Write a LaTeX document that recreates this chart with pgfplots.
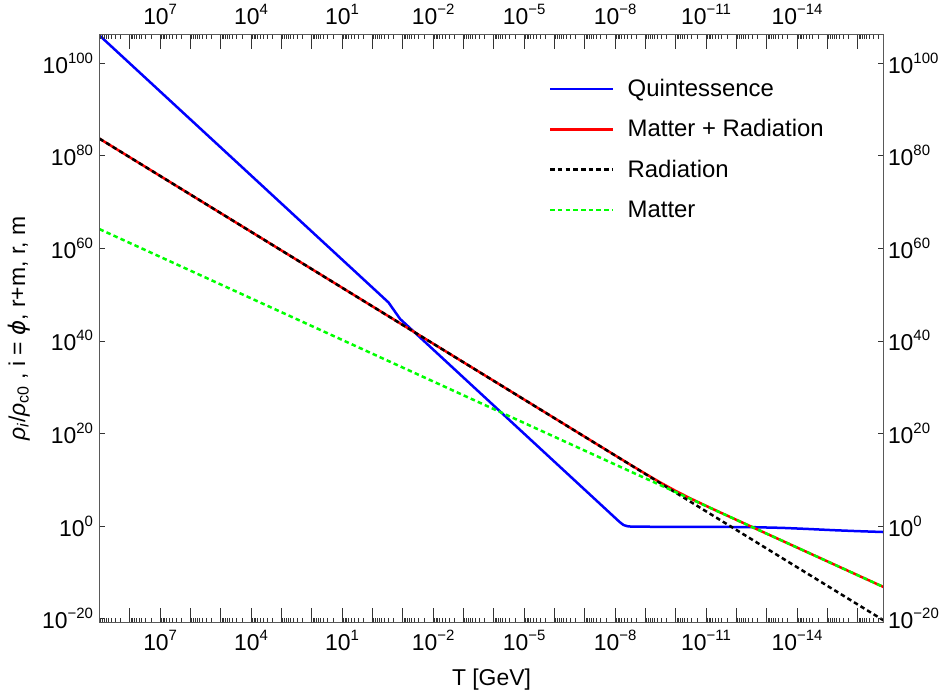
\documentclass[border=0pt]{standalone}
\usepackage{fontspec}
\setmainfont{Liberation Sans}
\newfontfamily\dejavu{DejaVu Sans}
\usepackage{pgfplots}
\pgfplotsset{compat=1.18}
\definecolor{qblue}{rgb}{0,0,1}
\definecolor{mred}{rgb}{1,0,0}
\definecolor{mgreen}{rgb}{0,1,0}
\newcommand{\tp}[1]{10\raisebox{10bp}{\fontsize{15}{16}\selectfont #1}}
\def\mlist{9e8}
\foreach \k in {-17,...,8}{\foreach \j in {2,...,9}{\xdef\mlist{\mlist,\j e\k}}}
\def\dlist{1e-16,1e-15,1e-14,1e-13,1e-12,1e-11,1e-10,1e-9,1e-8,1e-7,1e-6,1e-5,1e-4,1e-3,1e-2,1e-1,1e0,1e1,1e2,1e3,1e4,1e5,1e6,1e7,1e8}
\edef\minoraxis{\noexpand\begin{axis}[xmode=log, ymode=log, log basis x=10, log basis y=10,
  x dir=reverse, xmin=1.413e-17, xmax=1e9, ymin=1.585e-21, ymax=1.585e106,
  scale only axis, width=784bp, height=588bp, at={(0bp,0bp)}, anchor=south west,
  axis line style={draw=black!65, line width=1.1bp},
  tick style={draw=black!80, line width=0.9bp},
  tick align=inside, tick pos=both,
  xtick={\mlist}, xticklabels={}, ytick=\noexpand\empty, yticklabels={}, major tick length=4.5bp]}
\edef\decadeaxis{\noexpand\begin{axis}[xmode=log, ymode=log, log basis x=10, log basis y=10,
  x dir=reverse, xmin=1.413e-17, xmax=1e9, ymin=1.585e-21, ymax=1.585e106,
  scale only axis, width=784bp, height=588bp, at={(0bp,0bp)}, anchor=south west,
  axis line style={draw=black!65, line width=1.1bp},
  tick style={draw=black!80, line width=0.9bp},
  tick align=inside, tick pos=both,
  xtick={\dlist}, xticklabels={}, ytick=\noexpand\empty, yticklabels={}, major tick length=15bp]}
\begin{document}
\begin{tikzpicture}
\useasboundingbox (-99.5bp,-76.5bp) rectangle (846.5bp,622.5bp);
% data axis
\begin{axis}[
  xmode=log, ymode=log, log basis x=10, log basis y=10,
  x dir=reverse,
  xmin=1.413e-17, xmax=1e9, ymin=1.585e-21, ymax=1.585e106,
  scale only axis, width=784bp, height=588bp,
  at={(0bp,0bp)}, anchor=south west,
  axis line style={draw=black!65, line width=1.1bp},
  tick style={draw=black!80, line width=0.9bp},
  tick align=inside, tick pos=both,
  xtick=\empty, ytick=\empty,
  label style={font=\fontsize{23}{27}\selectfont},
  xlabel={T [GeV]},
  xlabel style={at={(axis description cs:0.5,0)}, anchor=base, yshift=-63.2bp},
  ylabel={\textit{ρ}\textsubscript{\textit{i}}/\textit{ρ}\textsubscript{c0} , i = {\dejavu\itshape ϕ}, r+m, r, m},
  ylabel style={at={(axis description cs:-0.095,0.5)}, anchor=base},
  legend style={draw=none, fill=none, at={(0.5733,0.9235)}, anchor=north west,
    inner sep=0pt, outer sep=0pt, font=\fontsize{24}{28}\selectfont,
    row sep=18.3bp, column sep=13.2bp,
    cells={anchor=base west},
    nodes={inner sep=0pt, text height=17bp, text depth=5bp}},
  legend image code/.code={\draw[#1] (0bp,7.4bp) -- (63bp,7.4bp);},
]
\addplot[qblue, line width=2.5bp] coordinates {
 (1e9,1e106) (0.2972,2.188e48) (0.1225,5.754e44)
 (1e-8,64.6) (7.079e-9,7.94) (5.248e-9,1.778) (3.981e-9,1.0) (2.818e-9,0.794)
 (3.162e-10,0.741) (3.162e-12,0.708) (2.512e-13,0.6026) (3.162e-14,0.4365)
 (5.012e-15,0.263) (6.31e-16,0.138) (1e-16,0.0851) (1.413e-17,0.0550)
};
\addlegendentry{Quintessence}
\addplot[mred, line width=2.5bp] coordinates {
 (1e9,5.012e83) (1e-6,2.188e23) (1e-7,2.089e19) (1e-8,1.995e15)
 (3.162e-9,1.995e13) (1e-9,2.138e11) (3.162e-10,2.570e9) (1e-10,4.074e7)
 (3.162e-11,8.913e5) (1e-11,2.455e4) (3.162e-12,7.499e2) (1e-12,23.6)
 (1e-13,0.02399) (1.413e-17,7.413e-14)
};
\addlegendentry{Matter + Radiation}
\addplot[black, line width=2.5bp, dash pattern=on 4.5bp off 3.2bp] coordinates {
 (1e9,5.012e83) (1.413e-17,4.677e-21)
};
\addlegendentry{Radiation}
\addplot[mgreen, line width=2.5bp, dash pattern=on 4.5bp off 3.2bp] coordinates {
 (1e9,1.445e64) (1.413e-17,7.413e-14)
};
\addlegendentry{Matter}
\end{axis}
% decade x ticks
\decadeaxis
\end{axis}
% minor x ticks
\minoraxis
\end{axis}
% y ticks + bottom/left labels
\begin{axis}[
  xmode=log, ymode=log, log basis x=10, log basis y=10,
  x dir=reverse,
  xmin=1.413e-17, xmax=1e9, ymin=1.585e-21, ymax=1.585e106,
  scale only axis, width=784bp, height=588bp,
  at={(0bp,0bp)}, anchor=south west,
  axis line style={draw=black!65, line width=1.1bp},
  tick style={draw=black!80, line width=0.9bp},
  tick align=inside, tick pos=both,
  tick label style={font=\fontsize{23}{27}\selectfont, inner sep=0pt},
  xtick={1e-14,1e-11,1e-8,1e-5,1e-2,1e1,1e4,1e7},
  xticklabels={\tp{−14},\tp{−11},\tp{−8},\tp{−5},\tp{−2},\tp{1},\tp{4},\tp{7}},
  ytick={1e-20,1,1e20,1e40,1e60,1e80,1e100},
  yticklabels={\tp{−20},\tp{0},\tp{20},\tp{40},\tp{60},\tp{80},\tp{100}},
  major tick length=6bp, minor tick length=0bp,
  xticklabel style={anchor=base, yshift=-28.2bp},
  yticklabel style={anchor=base east, xshift=-6.3bp, yshift=-10bp},
]
\end{axis}
% top/right labels
\begin{axis}[
  xmode=log, ymode=log, log basis x=10, log basis y=10,
  x dir=reverse,
  xmin=1.413e-17, xmax=1e9, ymin=1.585e-21, ymax=1.585e106,
  scale only axis, width=784bp, height=588bp,
  at={(0bp,0bp)}, anchor=south west,
  axis line style={draw=black!65, line width=1.1bp},
  tick style={draw=black!80, line width=0.9bp},
  tick align=inside, tick pos=both,
  tick label style={font=\fontsize{23}{27}\selectfont, inner sep=0pt},
  xtick={1e-14,1e-11,1e-8,1e-5,1e-2,1e1,1e4,1e7},
  xticklabels={\tp{−14},\tp{−11},\tp{−8},\tp{−5},\tp{−2},\tp{1},\tp{4},\tp{7}},
  ytick={1e-20,1,1e20,1e40,1e60,1e80,1e100},
  yticklabels={\tp{−20},\tp{0},\tp{20},\tp{40},\tp{60},\tp{80},\tp{100}},
  major tick length=6bp, minor tick length=0bp,
  xticklabel pos=upper, yticklabel pos=right,
  xticklabel style={anchor=base, yshift=9.5bp},
  yticklabel style={anchor=base west, xshift=4.3bp, yshift=-10bp},
]
\end{axis}
\end{tikzpicture}
\end{document}
